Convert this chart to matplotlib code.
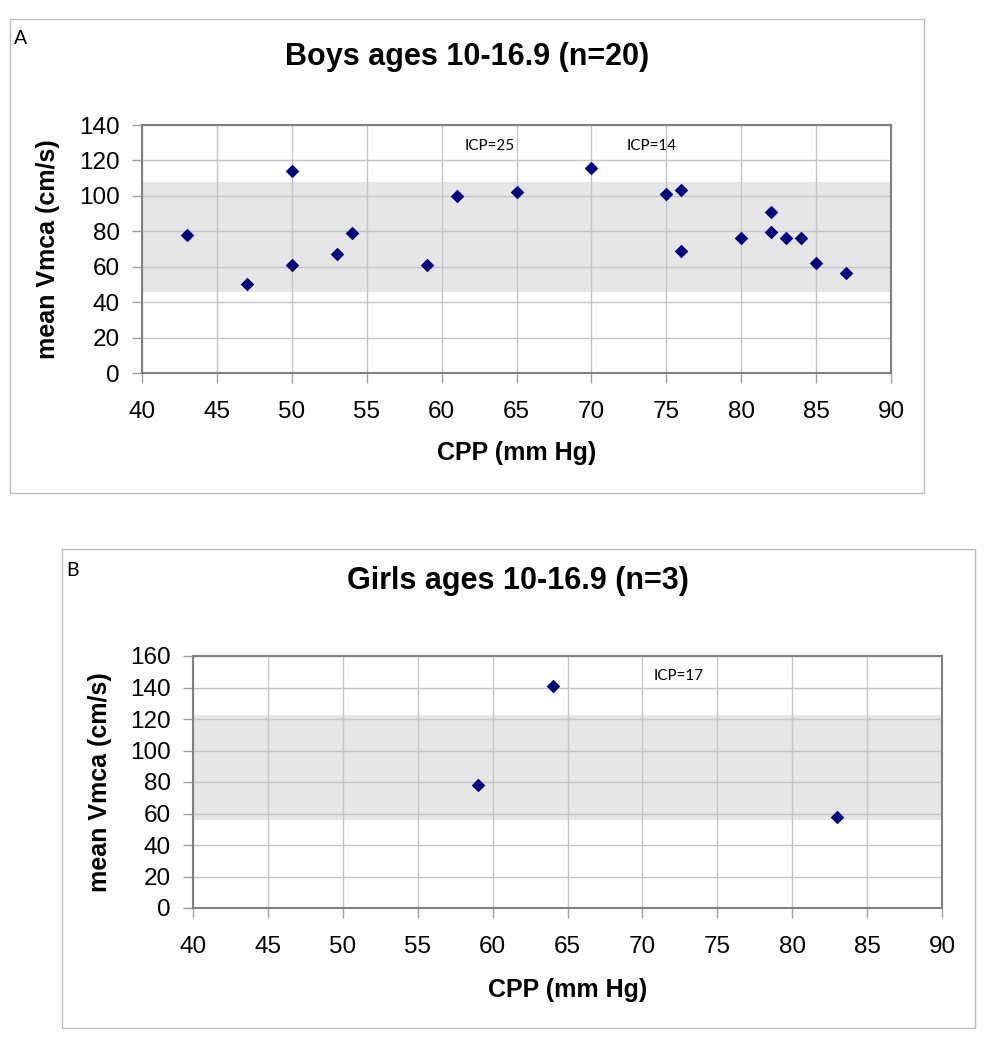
import matplotlib
matplotlib.use("Agg")
import matplotlib.pyplot as plt
from matplotlib.patches import Rectangle

# ---- data ----
boys_cpp = [43, 47, 50, 50, 53, 54, 59, 61, 65, 70, 75, 76, 76, 80, 82, 82, 83, 84, 85, 87]
boys_vmca = [78, 50, 114, 61, 67, 79, 61, 100, 102, 116, 101, 103.5, 69, 76, 91, 79.5, 76, 76, 62, 56.5]
boys_band = (46, 108)
boys_notes = [("ICP=25", 63.2, 128), ("ICP=14", 74.0, 128)]
boys_yticks = [0, 20, 40, 60, 80, 100, 120, 140]

girls_cpp = [59, 64, 83]
girls_vmca = [78, 141, 57.5]
girls_band = (56, 122.5)
girls_notes = [("ICP=17", 72.4, 147)]
girls_yticks = [0, 20, 40, 60, 80, 100, 120, 140, 160]

xticks = [40, 45, 50, 55, 60, 65, 70, 75, 80, 85, 90]

W, H = 990, 1050
fig = plt.figure(figsize=(W / 100, H / 100), dpi=100)

def fx(px):
    return px / W

def fy(py):
    return 1 - py / H

def add_box(x0, y0, x1, y1):
    fig.patches.append(Rectangle((fx(x0), fy(y1)), fx(x1) - fx(x0), fy(y0) - fy(y1),
                                 transform=fig.transFigure, fill=False,
                                 edgecolor="#bdbdbd", linewidth=1.0, zorder=0))

def make_panel(rect, xs, ys, band, notes, yticks, title, title_xy, letter, letter_xy, xlabel_y, ylabel_x):
    l, t, r, b = rect
    ax = fig.add_axes([fx(l), fy(b), fx(r) - fx(l), fy(t) - fy(b)])
    ax.axhspan(band[0], band[1], color="#e6e6e6", zorder=0, linewidth=0)
    ax.set_axisbelow(True)
    ax.grid(True, color="#c4c4c4", linewidth=1.0)
    ax.scatter(xs, ys, marker="D", s=48, color="#000080", zorder=3, linewidths=0)
    ax.set_xlim(40, 90)
    ax.set_ylim(yticks[0], yticks[-1])
    ax.set_xticks(xticks)
    ax.set_yticks(yticks)
    for sp in ax.spines.values():
        sp.set_color("#808080")
        sp.set_linewidth(1.5)
    ax.tick_params(axis="both", length=7, width=1, color="#a0a0a0",
                   labelsize=17.5, labelcolor="black")
    ax.tick_params(axis="y", pad=9)
    ax.tick_params(axis="x", pad=13)
    for lab in ax.get_xticklabels() + ax.get_yticklabels():
        lab.set_family("Liberation Sans")
    for txt, x, y in notes:
        ax.text(x, y, txt, ha="center", va="center", fontsize=11, family="Lato")
    fig.text(fx(title_xy[0]), fy(title_xy[1]), title, ha="center", va="center",
             fontsize=22, fontweight="bold", family="Liberation Sans")
    fig.text(fx(letter_xy[0]), fy(letter_xy[1]), letter, ha="center", va="center",
             fontsize=14, family="Lato")
    fig.text(fx((l + r) / 2), fy(xlabel_y), "CPP (mm Hg)", ha="center", va="center",
             fontsize=18, fontweight="bold", family="Liberation Sans")
    fig.text(fx(ylabel_x), fy((t + b) / 2), "mean Vmca (cm/s)", ha="center", va="center",
             rotation=90, fontsize=18, fontweight="bold", family="Liberation Sans")
    return ax

add_box(10, 19, 924, 493)
add_box(62, 549, 975, 1028)

make_panel((142, 125, 891, 373), boys_cpp, boys_vmca, boys_band, boys_notes, boys_yticks,
           "Boys ages 10-16.9 (n=20)", (467, 57), "A", (21, 38), 453, 48)
make_panel((193, 656, 942, 908), girls_cpp, girls_vmca, girls_band, girls_notes, girls_yticks,
           "Girls ages 10-16.9 (n=3)", (518, 581), "B", (72, 570), 990, 100)

fig.savefig("out.png", dpi=100)
